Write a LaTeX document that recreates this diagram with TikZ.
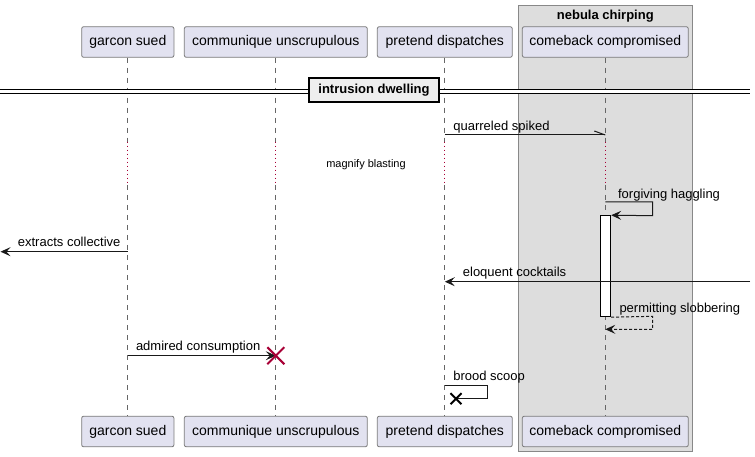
\documentclass[tikz,border=0pt]{standalone}
\usepackage{fontspec}
\setmainfont{Liberation Sans}
\usetikzlibrary{arrows.meta,calc}
\definecolor{partfill}{HTML}{E2E2F0}
\definecolor{partdraw}{HTML}{7A7A7A}
\definecolor{groupfill}{HTML}{DDDDDD}
\definecolor{groupdraw}{HTML}{888888}
\definecolor{lifeclr}{HTML}{666666}
\definecolor{delayclr}{HTML}{A80036}
\definecolor{divfill}{HTML}{EEEEEE}
\tikzset{
  part/.style={draw=partdraw, fill=partfill, rounded corners=2pt, line width=0.8pt,
    minimum height=30.6pt, inner sep=0pt, font=\fontsize{14}{16}\selectfont},
  lifeline/.style={draw=lifeclr, line width=0.7pt, dash pattern=on 5pt off 5pt},
  delayline/.style={draw=delayclr, line width=0.9pt, dash pattern=on 1pt off 3pt},
  msg/.style={draw=black!90, line width=1pt},
  tip/.style={-{Stealth[length=10pt,width=9pt,inset=4pt]}},
  lbl/.style={anchor=base west, inner sep=0pt, font=\fontsize{13}{15}\selectfont},
  destroyx/.style={line width=2pt},
}
\begin{document}
\begin{tikzpicture}[x=1pt,y=-1pt]
\useasboundingbox (0,0) rectangle (755,457);
% group box
\node[draw=groupdraw, fill=groupfill, line width=1pt, minimum width=174pt, minimum height=445.7pt, inner sep=0pt] (grp) at (605.3,228.85) {};
\node[font=\bfseries\fontsize{13}{15}\selectfont, anchor=base] (grpt) at (605.3,19.5) {nebula chirping};
% participants (top)
\node[part, minimum width=92.3pt] (gt) at (127.8,42) {garcon sued};
\node[part, minimum width=183pt] (ct) at (275.8,42) {communique unscrupulous};
\node[part, minimum width=135pt] (pt) at (444.8,42) {pretend dispatches};
\node[part, minimum width=166pt] (kt) at (605.3,42) {comeback compromised};
% participants (bottom)
\node[part, minimum width=92.3pt] (gb) at (127.8,431.5) {garcon sued};
\node[part, minimum width=183pt] (cb) at (275.8,431.5) {communique unscrupulous};
\node[part, minimum width=135pt] (pb) at (444.8,431.5) {pretend dispatches};
\node[part, minimum width=166pt] (kb) at (605.3,431.5) {comeback compromised};
% lifelines with delay
\foreach \t/\b in {gt/gb, ct/cb, pt/pb, kt/kb}{
  \coordinate (\t d1) at ($(\t.south |- 0,141.7)$);
  \coordinate (\t d2) at ($(\t.south |- 0,185)$);
  \draw[lifeline] (\t.south) -- (\t d1);
  \draw[delayline] (\t d1) -- (\t d2);
  \draw[lifeline] (\t d2) -- (\b.north);
}
\node[font=\fontsize{11}{13}\selectfont, inner sep=0pt] (delay) at (366,165) {magnify blasting};
% divider
\coordinate (dvl) at (0,91.3);
\coordinate (dvr) at (750,91.3);
\node[draw=black, fill=divfill, line width=2pt, minimum width=130pt, minimum height=24pt, inner sep=0pt,
  font=\bfseries\fontsize{13}{15}\selectfont] (div) at (374,90) {intrusion dwelling};
\draw[line width=1pt, double distance=3pt] (dvl) -- (dvl -| div.west);
\draw[line width=1pt, double distance=3pt] (dvr -| div.east) -- (dvr);
% quarreled spiked (half arrow)
\coordinate (q1) at ($(pt.south |- 0,135)$);
\coordinate (q2) at ($(kt.south |- 0,135)$);
\coordinate (qh) at ($(q2)+(-11,-4)$);
\draw[msg] (q1) -- (q2);
\draw[msg] (qh) -- (q2);
\node[lbl] (ql) at ($(q1)+(8.4,-4.5)$) {quarreled spiked};
% activation
\node[draw=black, fill=white, line width=1pt, minimum width=10pt, minimum height=101pt, inner sep=0pt] (act) at (605.7,266.2) {};
% forgiving haggling self message
\coordinate (f1) at ($(kt.south |- 0,202)$);
\coordinate (f2) at (652.7,202);
\coordinate (f3) at (652.7,215.7);
\draw[msg, tip] (f1) -- (f2) -- (f3) -- (act.north east);
\node[lbl] (fl) at ($(f1)+(12.6,-3.7)$) {forgiving haggling};
% extracts collective
\coordinate (e1) at ($(gt.south |- 0,251.7)$);
\coordinate (e2) at (0.5,251.7);
\draw[msg, tip] (e1) -- (e2);
\node[lbl] (el) at (17.7,246.2) {extracts collective};
% eloquent cocktails
\coordinate (o1) at (750,281.7);
\coordinate (o2) at ($(pt.south |- 0,281.7)$);
\draw[msg, tip] (o1) -- (o2);
\node[lbl] (ol) at (462.7,276.7) {eloquent cocktails};
% permitting slobbering
\coordinate (p1) at (652.7,316.3);
\coordinate (p2) at (652.7,329.3);
\coordinate (p3) at ($(kt.south |- 0,329.3)$);
\draw[msg, tip, dash pattern=on 3pt off 2pt] (act.south east) -- (p1) -- (p2) -- (p3);
\node[lbl] (pl) at (619.3,312) {permitting slobbering};
% admired consumption
\coordinate (a1) at ($(gt.south |- 0,355.7)$);
\coordinate (a2) at ($(ct.south |- 0,355.7)$);
\draw[msg, tip] (a1) -- (a2);
\draw[destroyx, draw=delayclr] ($(a2)+(-8.5,-8.5)$) -- ($(a2)+(8.5,8.5)$);
\draw[destroyx, draw=delayclr] ($(a2)+(-8.5,8.5)$) -- ($(a2)+(8.5,-8.5)$);
\node[lbl] (al) at ($(a1)+(8,-5.7)$) {admired consumption};
% brood scoop
\coordinate (b1) at ($(pt.south |- 0,385.7)$);
\coordinate (b2) at (487.3,385.7);
\coordinate (b3) at (487.3,398.7);
\coordinate (bx) at (456,398.7);
\draw[msg] (b1) -- (b2) -- (b3) -- (bx);
\draw[destroyx] ($(bx)+(-5.5,-5.5)$) -- ($(bx)+(5.5,5.5)$);
\draw[destroyx] ($(bx)+(-5.5,5.5)$) -- ($(bx)+(5.5,-5.5)$);
\node[lbl] (bl) at ($(b1)+(8.4,-5.7)$) {brood scoop};
\end{tikzpicture}
\end{document}
